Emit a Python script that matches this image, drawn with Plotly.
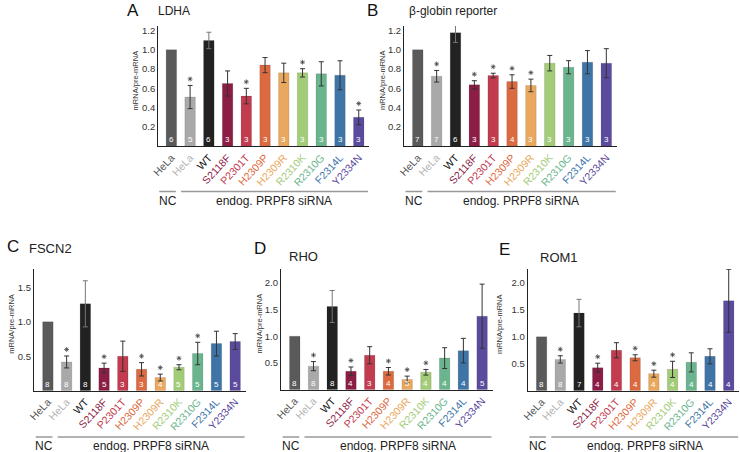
import plotly.graph_objects as go

# ---------------- data ----------------
labels = ["HeLa", "HeLa", "WT", "S2118F", "P2301T", "H2309P", "H2309R",
          "R2310K", "R2310G", "F2314L", "Y2334N"]
colors = ["#5a5a5a", "#a9a9a9", "#222222", "#8c1d45", "#c23b4f", "#db6a40",
          "#eaa85e", "#a3cc78", "#6bb58e", "#3f75a6", "#5b4b9e"]
label_colors = ["#555555", "#b3b3b3", "#111111", "#8c1d45", "#c23b4f", "#db6a40",
                "#eaa85e", "#a3cc78", "#6bb58e", "#3f75a6", "#5b4b9e"]

ldha_mean = [1.0, 0.51, 1.095, 0.65, 0.52, 0.84, 0.76, 0.76, 0.75, 0.735, 0.30]
ldha_err = [None, 0.12, 0.085, 0.13, 0.08, 0.078, 0.10, 0.043, 0.125, 0.15, 0.076]
ldha_n = [6, 5, 6, 3, 3, 3, 3, 3, 3, 3, 3]
ldha_sig = [0, 1, 0, 0, 1, 0, 0, 1, 0, 0, 1]

bglob_mean = [1.0, 0.725, 1.175, 0.636, 0.732, 0.67, 0.63, 0.86, 0.818, 0.87, 0.86]
bglob_err = [None, 0.06, 0.10, 0.043, 0.024, 0.07, 0.065, 0.08, 0.068, 0.12, 0.15]
bglob_n = [7, 7, 6, 3, 3, 4, 3, 3, 3, 3, 3]
bglob_sig = [0, 1, 0, 1, 1, 1, 1, 0, 0, 0, 0]

fscn2_mean = [1.0, 0.417, 1.262, 0.33, 0.50, 0.31, 0.19, 0.34, 0.54, 0.684, 0.714]
fscn2_err = [None, 0.087, 0.335, 0.07, 0.22, 0.097, 0.05, 0.037, 0.163, 0.18, 0.115]
fscn2_n = [8, 8, 8, 5, 3, 3, 4, 5, 5, 5, 5]
fscn2_sig = [0, 1, 0, 1, 0, 1, 1, 1, 1, 0, 0]

rho_mean = [1.0, 0.44, 1.556, 0.344, 0.644, 0.344, 0.19, 0.325, 0.59, 0.73, 1.375]
rho_err = [None, 0.085, 0.30, 0.08, 0.16, 0.07, 0.063, 0.053, 0.195, 0.23, 0.60]
rho_n = [8, 8, 8, 4, 3, 4, 5, 4, 4, 4, 5]
rho_sig = [0, 1, 0, 1, 0, 1, 1, 1, 0, 0, 0]

rom1_mean = [1.0, 0.58, 1.44, 0.426, 0.75, 0.61, 0.315, 0.395, 0.525, 0.637, 1.668]
rom1_err = [None, 0.068, 0.255, 0.083, 0.14, 0.056, 0.065, 0.15, 0.177, 0.14, 0.585]
rom1_n = [8, 8, 7, 4, 4, 4, 4, 4, 4, 4, 4]
rom1_sig = [0, 1, 0, 1, 0, 1, 1, 1, 0, 0, 0]

W, H = 740, 452
FONT = "Liberation Sans, Arial, sans-serif"


def px(x):
    return x / W


def py(y):
    return 1 - y / H


panels = [
    dict(letter="A", title="LDHA", mean=ldha_mean, err=ldha_err, n=ldha_n, sig=ldha_sig,
         x0=152.7, x1=365.5, yb=145.7, yt=25, yr=1.245, ticks=[0.2, 0.4, 0.6, 0.8, 1.0, 1.2],
         lp=(127, 10), tp=(150, 10), tsize=12, ytx=129.5, gl=191, gt=200, xr=(-0.70, 10.55)),
    dict(letter="B", title="β-globin reporter", mean=bglob_mean, err=bglob_err, n=bglob_n,
         sig=bglob_sig, x0=401, x1=615.7, yb=145.7, yt=25, yr=1.245,
         ticks=[0.2, 0.4, 0.6, 0.8, 1.0, 1.2],
         lp=(369, 10), tp=(404, 10), tsize=12, ytx=378.5, gl=191, gt=200, xr=(-0.72, 10.56)),
    dict(letter="C", title="FSCN2", mean=fscn2_mean, err=fscn2_err, n=fscn2_n, sig=fscn2_sig,
         x0=27.3, x1=241.7, yb=390.5, yt=268.5, yr=1.77, ticks=[0.5, 1.0, 1.5],
         lp=(6, 246), tp=(20, 248), tsize=13, ytx=5, gl=437, gt=445.5, xr=(-0.74, 10.6)),
    dict(letter="D", title="RHO", mean=rho_mean, err=rho_err, n=rho_n, sig=rho_sig,
         x0=276.7, x1=491, yb=389.5, yt=268.5, yr=2.26, ticks=[0.5, 1.0, 1.5, 2.0],
         lp=(255, 248), tp=(282.5, 256), tsize=13, ytx=254.5, gl=437, gt=445.5, xr=(-0.73, 10.6)),
    dict(letter="E", title="ROM1", mean=rom1_mean, err=rom1_err, n=rom1_n, sig=rom1_sig,
         x0=525.7, x1=739, yb=390.5, yt=268.5, yr=2.26, ticks=[0.5, 1.0, 1.5, 2.0],
         lp=(502, 249), tp=(536.5, 257), tsize=13, ytx=497, gl=437, gt=445.5, xr=(-0.74, 10.55)),
]

fig = go.Figure()
annotations = []
shapes = []
layout_axes = {}

for k, p in enumerate(panels, start=1):
    xa = "x" if k == 1 else f"x{k}"
    ya = "y" if k == 1 else f"y{k}"
    xs = list(range(len(labels)))
    for i in xs:
        e = p["err"][i]
        fig.add_trace(go.Bar(
            x=[i], y=[p["mean"][i]], width=0.56,
            marker=dict(color=colors[i], line=dict(color="rgba(0,0,0,0.18)", width=0.6)),
            error_y=dict(type="data", array=[e], visible=e is not None,
                         color="#777777" if i == 2 else "#333333", thickness=1, width=2.5),
            xaxis=xa, yaxis=ya, showlegend=False, hoverinfo="skip"))
        annotations.append(dict(x=i, y=0, xref=xa, yref=ya, text=str(p["n"][i]),
                                showarrow=False, yanchor="bottom", yshift=0,
                                font=dict(color="#ffffff", size=8, family=FONT)))
    # significance stars: placed 6.5 px above the error bar top
    unit_px = (p["yb"] - p["yt"]) / p["yr"]
    sx = [i for i in xs if p["sig"][i]]
    sy = [p["mean"][i] + (p["err"][i] or 0) + 6.5 / unit_px for i in sx]
    fig.add_trace(go.Scatter(
        x=sx, y=sy, mode="markers", xaxis=xa, yaxis=ya, showlegend=False, hoverinfo="skip",
        marker=dict(symbol="asterisk-open", size=4, color="#444444",
                    line=dict(color="#444444", width=0.8))))
    ticktext = [f"<span style='color:{c}'>{t}</span>" for t, c in zip(labels, label_colors)]
    layout_axes["xaxis" if k == 1 else f"xaxis{k}"] = dict(
        domain=[px(p["x0"]), px(p["x1"])], anchor=ya, range=list(p["xr"]),
        tickmode="array", tickvals=xs, ticktext=ticktext, tickangle=-47,
        tickfont=dict(size=10.5, family=FONT), showgrid=False, zeroline=False,
        showline=True, linecolor="#222222", linewidth=1.3, ticks="", fixedrange=True)
    layout_axes["yaxis" if k == 1 else f"yaxis{k}"] = dict(
        domain=[py(p["yb"]), py(p["yt"])], anchor=xa, range=[0, p["yr"]],
        tickmode="array", tickvals=p["ticks"], ticktext=[f"{t:.1f}" for t in p["ticks"]],
        tickfont=dict(size=9.5, family=FONT, color="#333333"), showgrid=False,
        zeroline=False, showline=True, linecolor="#222222", linewidth=1.3, ticks="",
        fixedrange=True)
    annotations.append(dict(x=px(p["lp"][0]), y=py(p["lp"][1]), xref="paper", yref="paper",
                            text=p["letter"], showarrow=False, xanchor="center", yanchor="middle",
                            font=dict(size=17, family=FONT, color="#111111")))
    annotations.append(dict(x=px(p["tp"][0]), y=py(p["tp"][1]), xref="paper", yref="paper",
                            text=p["title"], showarrow=False, xanchor="left", yanchor="middle",
                            font=dict(size=p["tsize"], family=FONT, color="#222222")))
    annotations.append(dict(x=px(p["ytx"]), y=py((p["yb"] + p["yt"]) / 2 - 6), xref="paper",
                            yref="paper", text="mRNA/pre-mRNA", textangle=-90, showarrow=False,
                            xanchor="center", yanchor="middle",
                            font=dict(size=7.5, family=FONT, color="#333333")))
    shapes.append(dict(type="line", xref=xa, yref="paper", x0=-0.65, x1=0.24,
                       y0=py(p["gl"]), y1=py(p["gl"]), line=dict(color="#999999", width=1.5)))
    shapes.append(dict(type="line", xref=xa, yref="paper", x0=0.52, x1=10.5,
                       y0=py(p["gl"]), y1=py(p["gl"]), line=dict(color="#999999", width=1.5)))
    annotations.append(dict(x=-0.2, y=py(p["gt"]), xref=xa, yref="paper", text="NC",
                            showarrow=False, xanchor="center", yanchor="middle",
                            font=dict(size=12, family=FONT, color="#222222")))
    annotations.append(dict(x=5.5, y=py(p["gt"]), xref=xa, yref="paper",
                            text="endog. PRPF8 siRNA", showarrow=False, xanchor="center",
                            yanchor="middle", font=dict(size=12, family=FONT, color="#222222")))

fig.update_layout(
    width=W, height=H, margin=dict(l=0, r=0, t=0, b=0),
    paper_bgcolor="white", plot_bgcolor="white", barmode="overlay",
    annotations=annotations, shapes=shapes, font=dict(family=FONT),
    **layout_axes)

fig.write_html("out.html", config={"displayModeBar": False},
               post_script="document.body.style.margin='0';document.body.style.overflow='hidden';")
